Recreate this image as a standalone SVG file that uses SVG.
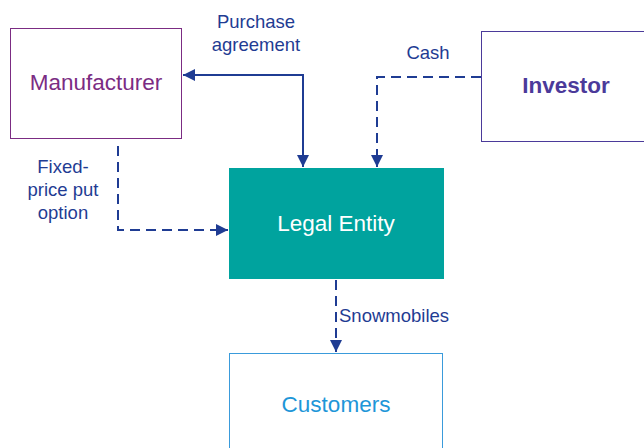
<svg xmlns="http://www.w3.org/2000/svg" width="644" height="448" viewBox="0 0 644 448">
<style>
text{font-family:"Liberation Sans",Arial,sans-serif}
.lbl{font-size:18.5px;fill:#1F3C93}
.ln{fill:none;stroke:#1F3C93;stroke-width:2}
.dash{stroke-dasharray:10 6}
.node{font-size:22.5px}
</style>
<defs>
<marker id="ah" viewBox="0 0 10 10" refX="10" refY="5" markerWidth="6" markerHeight="6" orient="auto-start-reverse" markerUnits="strokeWidth">
<path d="M0,0 L10,5 L0,10 z" fill="#1F3C93"/>
</marker>
</defs>
<rect width="644" height="448" fill="#fff"/>
<g id="connectors">
<path class="ln" d="M183,75 H303 V167" marker-start="url(#ah)" marker-end="url(#ah)"/>
<path class="ln dash" d="M481,77 H377 V167" marker-end="url(#ah)"/>
<path class="ln dash" d="M118,146 V230 H228" marker-end="url(#ah)"/>
<path class="ln dash" d="M336,280 V352" marker-end="url(#ah)"/>
<text class="lbl" x="256" y="28" text-anchor="middle">Purchase</text>
<text class="lbl" x="256" y="51" text-anchor="middle">agreement</text>
<text class="lbl" x="428" y="59" text-anchor="middle">Cash</text>
<text class="lbl" x="63" y="173" text-anchor="middle">Fixed-</text>
<text class="lbl" x="63" y="196" text-anchor="middle">price put</text>
<text class="lbl" x="63" y="219" text-anchor="middle">option</text>
<text class="lbl" x="339" y="322">Snowmobiles</text>
</g>
<g id="manufacturer">
<rect x="10.5" y="28.5" width="171" height="110" fill="#fff" stroke="#7B2C83" stroke-width="1"/>
<text class="node" x="96" y="90" text-anchor="middle" fill="#7B2C83">Manufacturer</text>
</g>
<g id="investor">
<rect x="481.5" y="31.5" width="170" height="110" fill="#fff" stroke="#4B3A9A" stroke-width="1"/>
<text class="node" x="566" y="93" text-anchor="middle" fill="#4B3A9A" font-weight="bold">Investor</text>
</g>
<g id="legal-entity">
<rect x="229" y="168" width="215" height="111" fill="#00A39E"/>
<text class="node" x="336" y="231" text-anchor="middle" fill="#fff">Legal Entity</text>
</g>
<g id="customers">
<rect x="229.5" y="353.5" width="213" height="100" fill="#fff" stroke="#3A9BDB" stroke-width="1"/>
<text class="node" x="336" y="412" text-anchor="middle" fill="#1E96D8">Customers</text>
</g>
</svg>
